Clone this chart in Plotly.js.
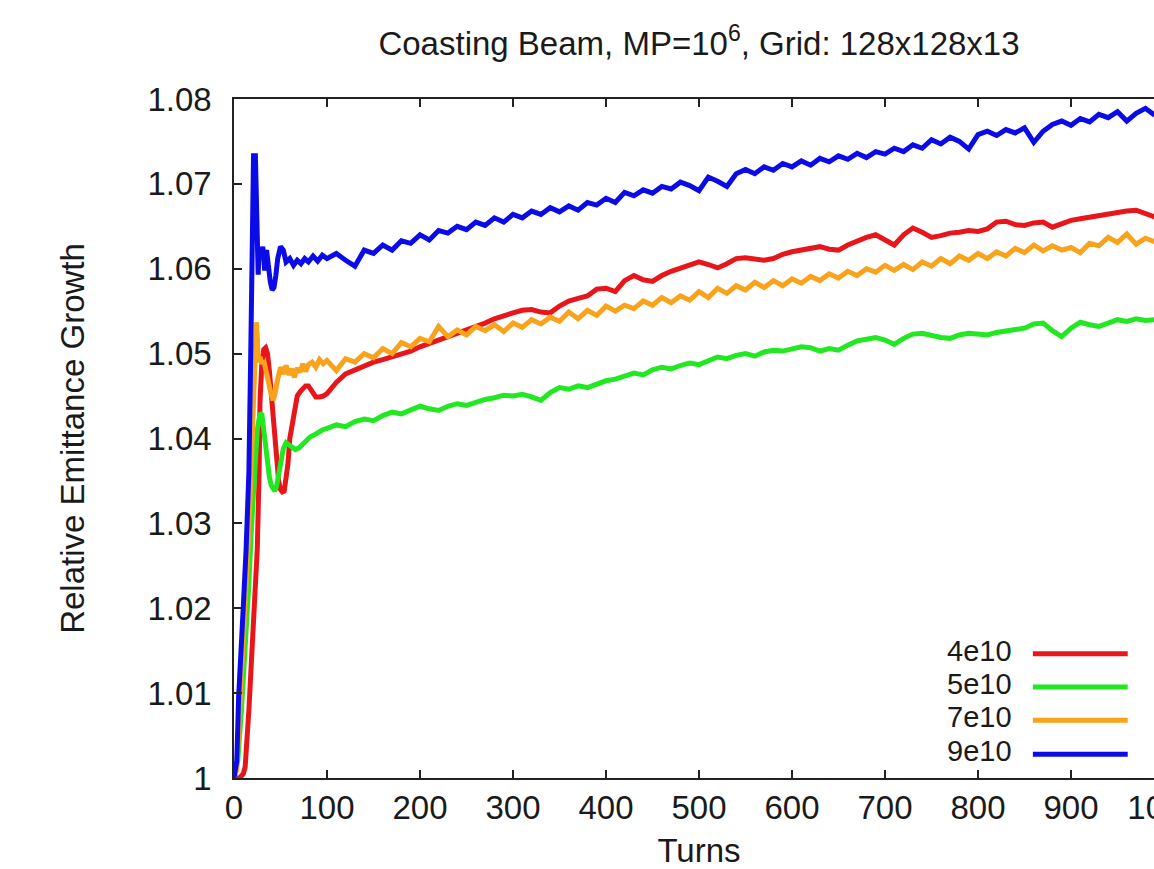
<!DOCTYPE html>
<html>
<head>
<meta charset="utf-8">
<script src="https://cdn.plot.ly/plotly-3.0.1.min.js"></script>
<style>
html, body { margin: 0; padding: 0; width: 1154px; height: 869px; overflow: hidden; background: #fff; }
#chart { width: 1180px; height: 869px; }
</style>
</head>
<body>
<div id="chart"></div>
<script>
// ---- data ----
const seriesNames = ["4e10", "5e10", "7e10", "9e10"];
const seriesColors = ["#e8161b", "#22e822", "#f8a31b", "#0b0be8"];

const lateTurns = [100,110,120,130,140,150,160,170,180,190,200,210,220,230,240,250,260,270,280,290,
  300,310,320,330,340,350,360,370,380,390,400,410,420,430,440,450,460,470,480,490,
  500,510,520,530,540,550,560,570,580,590,600,610,620,630,640,650,660,670,680,690,
  700,710,720,730,740,750,760,770,780,790,800,810,820,830,840,850,860,870,880,890,
  900,910,920,930,940,950,960,970,980,990];

// 4e10 (red)
const redEarlyTurns = [0,6,10,12,16,19,22,25,27,28,30,32,34,36,38,40,42,44,46,48,50,52,54,56,58,60,62,64,66,68,71,74,77,80,84,88,92,96];
const redEarly = [1.000,1.000,1.0005,1.0013,1.008,1.0139,1.020,1.0269,1.036,1.0445,1.049,1.0505,1.0507,1.050,1.048,1.045,1.042,1.039,1.037,1.035,1.034,1.0337,1.0338,1.035,1.037,1.040,1.0415,1.0425,1.044,1.045,1.0455,1.0458,1.0462,1.0462,1.0455,1.0449,1.0449,1.045];
const redLate = [1.0453,1.0466,1.0476,1.0481,1.0486,1.0490,1.0493,1.0496,1.0499,1.0503,1.0508,1.0512,1.0516,1.0520,1.0523,1.0527,1.0531,1.0536,1.0541,1.0545,
  1.0548,1.0551,1.0552,1.0549,1.0548,1.0556,1.0562,1.0565,1.0568,1.0576,1.0577,1.0573,1.0586,1.0592,1.0587,1.0585,1.0592,1.0597,1.0601,1.0605,
  1.0608,1.0605,1.0601,1.0606,1.0612,1.0613,1.0611,1.0610,1.0612,1.0617,1.0620,1.0622,1.0625,1.0626,1.0623,1.0622,1.0628,1.0633,1.0637,1.0640,
  1.0634,1.0628,1.0640,1.0648,1.0643,1.0637,1.0639,1.0642,1.0643,1.0645,1.0644,1.0647,1.0655,1.0656,1.0652,1.0651,1.0654,1.0655,1.0649,1.0653,
  1.0657,1.0659,1.0661,1.0663,1.0665,1.0666,1.0668,1.0669,1.0665,1.0661];

// 5e10 (green)
const greenEarlyTurns = [0,4,8,12,16,19,22,25,28,30,32,34,36,38,40,42,44,46,48,50,53,56,59,62,66,70,74,78,82,86,90,95];
const greenEarly = [1.000,1.002,1.008,1.015,1.023,1.030,1.037,1.041,1.043,1.0428,1.041,1.039,1.037,1.0355,1.0345,1.034,1.0338,1.0345,1.036,1.0375,1.0388,1.0395,1.0393,1.0390,1.0387,1.0389,1.0394,1.0398,1.0402,1.0404,1.0407,1.0410];
const greenLate = [1.0412,1.0416,1.0414,1.0420,1.0423,1.0421,1.0427,1.0431,1.0429,1.0434,1.0438,1.0435,1.0433,1.0438,1.0441,1.0439,1.0443,1.0446,1.0448,1.0451,
  1.0450,1.0452,1.0449,1.0445,1.0454,1.0460,1.0458,1.0462,1.0460,1.0464,1.0468,1.0470,1.0474,1.0477,1.0475,1.0481,1.0484,1.0482,1.0486,1.0489,
  1.0487,1.0492,1.0496,1.0494,1.0498,1.0500,1.0497,1.0502,1.0504,1.0503,1.0506,1.0508,1.0507,1.0503,1.0506,1.0504,1.0510,1.0515,1.0517,1.0519,
  1.0516,1.0511,1.0518,1.0523,1.0524,1.0521,1.0519,1.0518,1.0522,1.0524,1.0523,1.0522,1.0525,1.0527,1.0528,1.0530,1.0535,1.0536,1.0527,1.0520,
  1.0530,1.0537,1.0534,1.0532,1.0536,1.0540,1.0538,1.0541,1.0539,1.0540];

// 7e10 (orange)
const orangeEarlyTurns = [0,3,6,9,12,15,18,20,22,23,24,25,26,28,30,32,34,36,38,40,42,44,46,48,50,53,56,59,62,65,68,71,74,77,80,84,88,92,96];
const orangeEarly = [1.000,1.001,1.008,1.014,1.020,1.027,1.035,1.042,1.048,1.050,1.0537,1.052,1.049,1.0496,1.0488,1.0492,1.048,1.047,1.046,1.0452,1.0445,1.0452,1.0465,1.0478,1.0484,1.0476,1.0486,1.0475,1.0482,1.0472,1.0483,1.0478,1.0488,1.0479,1.0487,1.0490,1.0484,1.0493,1.0488];
const orangeLate = [1.0492,1.0480,1.0494,1.0490,1.0500,1.0495,1.0506,1.0500,1.0513,1.0508,1.0518,1.0514,1.0532,1.0520,1.0528,1.0522,1.0532,1.0527,1.0534,1.0526,
  1.0536,1.0531,1.0540,1.0535,1.0543,1.0538,1.0549,1.0541,1.0551,1.0545,1.0556,1.0550,1.0557,1.0553,1.0562,1.0557,1.0566,1.0560,1.0568,1.0563,
  1.0573,1.0566,1.0577,1.0571,1.0580,1.0575,1.0584,1.0578,1.0586,1.0580,1.0588,1.0583,1.0591,1.0586,1.0594,1.0589,1.0597,1.0592,1.0600,1.0596,
  1.0604,1.0598,1.0605,1.0599,1.0608,1.0603,1.0612,1.0606,1.0615,1.0610,1.0618,1.0612,1.0620,1.0615,1.0624,1.0619,1.0628,1.0621,1.0627,1.0622,
  1.0625,1.0619,1.0630,1.0627,1.0637,1.0631,1.0641,1.0629,1.0636,1.0632];

// 9e10 (blue)
const blueEarlyTurns = [0,3,5,8,10,13,16,18,19,20,21,23,24,25,26,27,29,31,33,35,37,39,41,43,45,47,50,53,56,60,64,68,72,76,80,85,90,95];
const blueEarly = [1.000,1.002,1.0096,1.015,1.0202,1.0269,1.036,1.050,1.058,1.066,1.0733,1.0733,1.068,1.062,1.0593,1.0622,1.0615,1.0626,1.0598,1.0622,1.060,1.0585,1.0575,1.0578,1.0592,1.0612,1.0626,1.0622,1.0608,1.0612,1.0604,1.0610,1.0606,1.0612,1.0608,1.0615,1.0609,1.0616];
const blueLate = [1.0612,1.0618,1.0610,1.0603,1.0622,1.0618,1.0628,1.0622,1.0633,1.0630,1.0640,1.0634,1.0645,1.0642,1.0650,1.0646,1.0655,1.0651,1.0660,1.0655,
  1.0664,1.0660,1.0668,1.0664,1.0672,1.0667,1.0674,1.0669,1.0678,1.0675,1.0683,1.0678,1.0690,1.0686,1.0693,1.0689,1.0697,1.0694,1.0702,1.0698,
  1.0692,1.0708,1.0703,1.0697,1.0712,1.0717,1.0712,1.0720,1.0716,1.0724,1.0720,1.0727,1.0722,1.0730,1.0726,1.0733,1.0729,1.0736,1.0731,1.0738,
  1.0735,1.0742,1.0738,1.0746,1.0742,1.0752,1.0747,1.0755,1.0750,1.0741,1.0758,1.0762,1.0757,1.0764,1.0760,1.0766,1.0749,1.0762,1.0770,1.0774,
  1.0769,1.0777,1.0773,1.0782,1.0778,1.0785,1.0774,1.0783,1.0789,1.0781];

const xTickVals = [0,100,200,300,400,500,600,700,800,900,1000];
const yTickVals = [1,1.01,1.02,1.03,1.04,1.05,1.06,1.07,1.08];

// ---- build ----
const FONT = "Liberation Sans, Arial, Helvetica, sans-serif";
const TXT = "#1a1a1a";
const seriesX = [redEarlyTurns.concat(lateTurns), greenEarlyTurns.concat(lateTurns), orangeEarlyTurns.concat(lateTurns), blueEarlyTurns.concat(lateTurns)];
const seriesY = [redEarly.concat(redLate), greenEarly.concat(greenLate), orangeEarly.concat(orangeLate), blueEarly.concat(blueLate)];

const traces = seriesNames.map((name, i) => ({
  type: "scatter", mode: "lines", name: name,
  x: seriesX[i], y: seriesY[i],
  line: { color: seriesColors[i], width: 5 },
  showlegend: false
}));

// custom gnuplot-style key (text left, sample line right)
const keyY = [0.183, 0.134, 0.085, 0.035];
const shapes = seriesNames.map((n, i) => ({
  type: "line", xref: "paper", yref: "paper",
  x0: 0.859, x1: 0.961, y0: keyY[i], y1: keyY[i],
  line: { color: seriesColors[i], width: 5 }
}));
const annotations = seriesNames.map((n, i) => ({
  xref: "paper", yref: "paper", x: 0.8385, y: keyY[i], yshift: 3,
  xanchor: "right", yanchor: "middle", showarrow: false,
  text: n, font: { family: FONT, size: 29, color: TXT }
}));

const axisCommon = {
  showline: true, linecolor: "#222", linewidth: 1.5, mirror: "ticks",
  ticks: "inside", ticklen: 8, tickwidth: 1.5, tickcolor: "#222",
  showgrid: false, zeroline: false, ticklabeloverflow: "allow",
  tickfont: { family: FONT, size: 33, color: TXT }
};

const layout = {
  width: 1180, height: 869,
  margin: { l: 234, r: 16, t: 99, b: 91 },
  paper_bgcolor: "#fff", plot_bgcolor: "#fff",
  title: {
    text: "Coasting Beam, MP=10<sup>6</sup>, Grid: 128x128x13",
    font: { family: FONT, size: 33, color: TXT },
    xref: "paper", x: 0.5, xanchor: "center",
    yref: "container", y: 0.95, yanchor: "middle"
  },
  xaxis: Object.assign({}, axisCommon, {
    range: [0, 1000], tickvals: xTickVals, ticklabelstandoff: 0,
    title: { text: "Turns", font: { family: FONT, size: 33, color: TXT }, standoff: 18 }
  }),
  yaxis: Object.assign({}, axisCommon, {
    range: [1, 1.08], tickvals: yTickVals, ticklabelstandoff: 14,
    title: { text: "Relative Emittance Growth", font: { family: FONT, size: 33, color: TXT }, standoff: 53 }
  }),
  shapes: shapes,
  annotations: annotations
};

Plotly.newPlot("chart", traces, layout, { displayModeBar: false, responsive: false });
</script>
</body>
</html>
